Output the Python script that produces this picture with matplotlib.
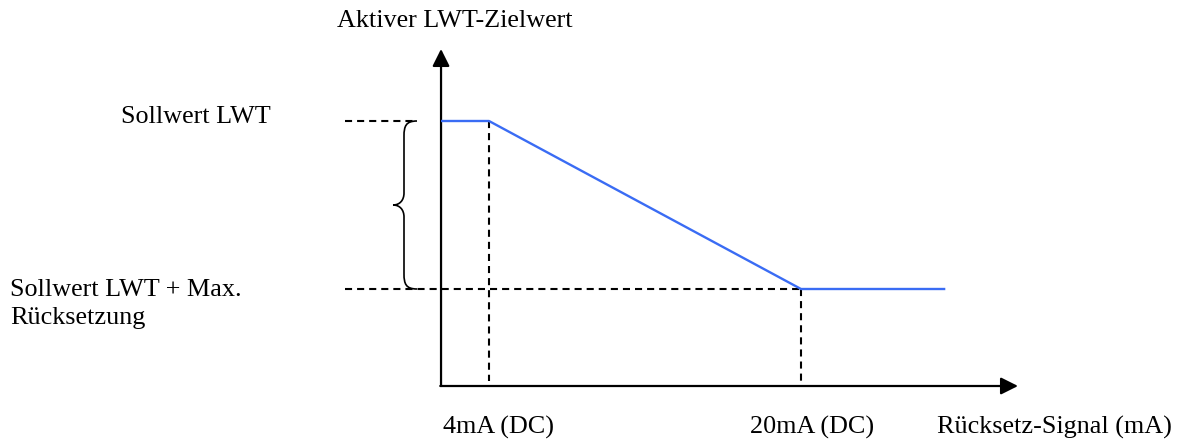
import matplotlib.pyplot as plt
from matplotlib.path import Path
from matplotlib.patches import PathPatch

plt.rcParams['font.family'] = ['Liberation Serif', 'DejaVu Serif']

# reset signal (mA) and active LWT setpoint level
# (1 = Sollwert LWT, 0 = Sollwert LWT + max. Rücksetzung)
signal_ma = [1.54, 4, 20, 27.4]
lwt_level = [1.0, 1.0, 0.0, 0.0]

reset_start_ma = 4
reset_end_ma = 20
setpoint_level = 1.0
max_reset_level = 0.0

x_labels = ['4mA (DC)', '20mA (DC)']
x_title = 'Rücksetz-Signal (mA)'
y_title = 'Aktiver LWT-Zielwert'
level_labels = ['Sollwert LWT', 'Sollwert LWT + Max.\nRücksetzung']

W, H = 1178, 443
fig = plt.figure(figsize=(W / 100, H / 100), dpi=100)
ax = fig.add_axes([0, 0, 1, 1])
ax.axis('off')

# scale so the schematic sits where it does in the original drawing
px_per_ma = (801 - 489) / (reset_end_ma - reset_start_ma)
px_per_lvl = 289 - 121


def to_x(px):
    return reset_start_ma + (px - 489) / px_per_ma


def to_y(py):
    return setpoint_level - (py - 121) / px_per_lvl


def fig_pos(px, py):
    return px / W, 1 - py / H


ax.set_xlim(to_x(0), to_x(W))
ax.set_ylim(to_y(H), to_y(0))

x0 = signal_ma[0]
y0 = to_y(386)

# axes with arrow heads
arrow = dict(arrowstyle='-|>', mutation_scale=26, lw=1.6, color='black',
             shrinkA=0, shrinkB=0)
ax.annotate('', xy=(x0, to_y(49)), xytext=(x0, y0), arrowprops=arrow)
ax.annotate('', xy=(to_x(1018), y0), xytext=(x0 - 0.04, y0), arrowprops=arrow)

# dashed helper lines
dash = dict(color='black', lw=1.5, linestyle=(0, (3.4, 2.4)))
ax.plot([to_x(345), to_x(417)], [setpoint_level, setpoint_level], **dash)
ax.plot([to_x(345), reset_end_ma], [max_reset_level, max_reset_level], **dash)
ax.plot([reset_start_ma, reset_start_ma], [setpoint_level, to_y(381)], **dash)
ax.plot([reset_end_ma, reset_end_ma], [max_reset_level, to_y(381)], **dash)

# setpoint curve
ax.plot(signal_ma, lwt_level, color='#3a6cf4', lw=1.7, solid_capstyle='butt', zorder=3)

# curly brace between the two levels
pts = [(417, 121), (406, 121), (404, 126), (404, 136),
       (404, 193),
       (404, 200), (400, 205), (393, 205),
       (400, 205), (404, 210), (404, 217),
       (404, 274),
       (404, 284), (406, 289), (417, 289)]
codes = [Path.MOVETO, Path.CURVE4, Path.CURVE4, Path.CURVE4,
         Path.LINETO,
         Path.CURVE4, Path.CURVE4, Path.CURVE4,
         Path.CURVE4, Path.CURVE4, Path.CURVE4,
         Path.LINETO,
         Path.CURVE4, Path.CURVE4, Path.CURVE4]
brace = Path([(to_x(px), to_y(py)) for px, py in pts], codes)
ax.add_patch(PathPatch(brace, facecolor='none', edgecolor='black', lw=1.2))

# texts
fs = 18.8
fig.text(*fig_pos(337, 27), y_title, fontsize=fs, va='baseline')
fig.text(*fig_pos(121, 123), level_labels[0], fontsize=fs, va='baseline')
fig.text(*fig_pos(10, 296), level_labels[1].split('\n')[0], fontsize=fs, va='baseline')
fig.text(*fig_pos(10, 324), level_labels[1].split('\n')[1], fontsize=fs, va='baseline')
fig.text(*fig_pos(443, 434), x_labels[0], fontsize=fs, va='baseline')
fig.text(*fig_pos(750, 434), x_labels[1], fontsize=fs, va='baseline')
fig.text(*fig_pos(937, 434), x_title, fontsize=fs, va='baseline')

fig.savefig('out.png', dpi=100)
